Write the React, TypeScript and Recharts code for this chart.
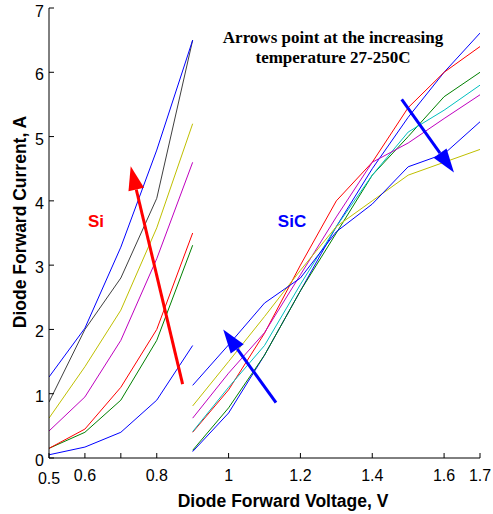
import React from "react";
import {
  LineChart,
  Line,
  XAxis,
  YAxis,
  ReferenceLine,
} from "recharts";

// 電圧の点（Si と SiC）
const siVoltage = [0.5, 0.6, 0.7, 0.8, 0.9];
const sicVoltage = [0.9, 1.0, 1.1, 1.2, 1.3, 1.4, 1.5, 1.6, 1.7];

// Si の電流（低温 → 高温）
const si1 = [0.05, 0.17, 0.4, 0.9, 1.75];
const si2 = [0.15, 0.4, 0.9, 1.83, 3.31];
const si3 = [0.15, 0.45, 1.1, 2.0, 3.5];
const si4 = [0.42, 0.95, 1.83, 3.1, 4.6];
const si5 = [0.62, 1.42, 2.3, 3.58, 5.2];
const si6 = [0.87, 2.0, 2.8, 4.04, 6.5];
const si7 = [1.26, 2.02, 3.28, 4.79, 6.5];

// SiC の電流（低温 → 高温）
const sic1 = [0.1, 0.7, 1.6, 2.6, 3.6, 4.5, 5.3, 6.0, 6.61];
const sic2 = [0.12, 0.78, 1.6, 2.6, 3.5, 4.4, 5.0, 5.62, 6.0];
const sic3 = [0.4, 1.06, 1.94, 3.0, 4.0, 4.6, 5.45, 6.0, 6.4];
const sic4 = [0.41, 1.1, 1.75, 2.7, 3.6, 4.4, 5.07, 5.41, 5.8];
const sic5 = [0.62, 1.32, 1.95, 2.85, 3.75, 4.6, 4.9, 5.28, 5.65];
const sic6 = [0.81, 1.5, 2.2, 2.92, 3.6, 4.0, 4.4, 4.6, 4.8];
const sic7 = [1.13, 1.76, 2.41, 2.8, 3.52, 3.95, 4.53, 4.73, 5.23];

const siColors = ["#0000ff", "#008000", "#ff0000", "#bf00bf", "#bfbf00", "#404040", "#0000ff"];
const sicColors = ["#0000ff", "#008000", "#ff0000", "#00bfbf", "#bf00bf", "#bfbf00", "#0000ff"];

const xTicks = [0.5, 0.6, 0.7, 0.8, 1, 1.2, 1.4, 1.6, 1.7];
const yTicks = [0, 1, 2, 3, 4, 5, 6, 7];

// 矢印（始点 → 先端）
const arrows = [
  { from: { x: 0.872, y: 1.15 }, to: { x: 0.7275, y: 4.54 }, color: "#ff0000" },
  { from: { x: 1.132, y: 0.86 }, to: { x: 0.985, y: 2.0 }, color: "#0000ff" },
  { from: { x: 1.482, y: 5.58 }, to: { x: 1.6275, y: 4.44 }, color: "#0000ff" },
];

const toPoints = (xs: number[], ys: number[]) => xs.map((x, i) => ({ x, y: ys[i] }));

const siSeries = [si1, si2, si3, si4, si5, si6, si7].map((ys) => toPoints(siVoltage, ys));
const sicSeries = [sic1, sic2, sic3, sic4, sic5, sic6, sic7].map((ys) => toPoints(sicVoltage, ys));

const font = "Arial, 'Liberation Sans', sans-serif";
const serif = "'Liberation Serif', 'Times New Roman', serif";

const XTick = (props: any) => {
  const { x, y, payload } = props;
  if (payload.value === 0.7) return <g />;
  const dy = payload.value === 0.5 ? 3 : 0;
  return (
    <text x={x} y={y + dy} dy={18} textAnchor="middle" fontSize={16} fontFamily={font} fill="#000">
      {payload.value}
    </text>
  );
};

const YTick = (props: any) => {
  const { x, y, payload } = props;
  return (
    <text x={x} y={y} dy={8} textAnchor="end" fontSize={16} fontFamily={font} fill="#000">
      {payload.value}
    </text>
  );
};

const ArrowShape = (props: any) => {
  const { x1, y1, x2, y2, stroke } = props;
  const dx = x2 - x1;
  const dy = y2 - y1;
  const len = Math.sqrt(dx * dx + dy * dy);
  const ux = dx / len;
  const uy = dy / len;
  const headLen = 24;
  const headHalf = 8;
  const bx = x2 - ux * headLen;
  const by = y2 - uy * headLen;
  const pts = `${x2},${y2} ${bx - uy * headHalf},${by + ux * headHalf} ${bx + uy * headHalf},${by - ux * headHalf}`;
  return (
    <g>
      <line x1={x1} y1={y1} x2={bx} y2={by} stroke={stroke} strokeWidth={3} />
      <polygon points={pts} fill={stroke} />
    </g>
  );
};

const App = () => {
  return (
    <div style={{ position: "absolute", left: 0, top: 0 }}>
      <LineChart width={493} height={514} margin={{ top: 8, right: 13, bottom: 0, left: 0 }}>
        <XAxis
          dataKey="x"
          type="number"
          domain={[0.5, 1.7]}
          ticks={xTicks}
          height={56}
          tickSize={-5}
          tickMargin={10}
          stroke="#000"
          tick={<XTick />}
          allowDataOverflow
        />
        <XAxis
          xAxisId="top"
          orientation="top"
          type="number"
          domain={[0.5, 1.7]}
          ticks={xTicks}
          height={0}
          tickSize={-5}
          stroke="#000"
          tick={() => <g />}
          allowDataOverflow
        />
        <YAxis
          type="number"
          domain={[0, 7]}
          ticks={yTicks}
          width={49}
          tickSize={-5}
          tickMargin={10}
          stroke="#000"
          tick={<YTick />}
          allowDataOverflow
        />
        <YAxis
          yAxisId="right"
          orientation="right"
          type="number"
          domain={[0, 7]}
          ticks={yTicks}
          width={0}
          tickSize={-5}
          stroke="#000"
          tick={() => <g />}
          allowDataOverflow
        />
        {siSeries.map((d, i) => (
          <Line
            key={`si${i}`}
            data={d}
            dataKey="y"
            stroke={siColors[i]}
            strokeWidth={1}
            dot={false}
            isAnimationActive={false}
          />
        ))}
        {sicSeries.map((d, i) => (
          <Line
            key={`sic${i}`}
            data={d}
            dataKey="y"
            stroke={sicColors[i]}
            strokeWidth={1}
            dot={false}
            isAnimationActive={false}
          />
        ))}
        {arrows.map((a, i) => (
          <ReferenceLine
            key={`arrow${i}`}
            segment={[a.from, a.to]}
            stroke={a.color}
            shape={<ArrowShape />}
          />
        ))}
        <text x={96} y={227} textAnchor="middle" fontSize={17} fontWeight="bold" fontFamily={font} fill="#ff0000">
          Si
        </text>
        <text x={292} y={227} textAnchor="middle" fontSize={17} fontWeight="bold" fontFamily={font} fill="#0000ff">
          SiC
        </text>
        <text x={333} y={43} textAnchor="middle" fontSize={17} fontWeight="bold" fontFamily={serif} fill="#000">
          Arrows point at the increasing
        </text>
        <text x={333} y={63} textAnchor="middle" fontSize={17} fontWeight="bold" fontFamily={serif} fill="#000">
          temperature 27-250C
        </text>
        <text x={283} y={507} textAnchor="middle" fontSize={17.5} fontWeight="bold" fontFamily={font} fill="#000">
          Diode Forward Voltage, V
        </text>
        <text
          x={26}
          y={222}
          textAnchor="middle"
          fontSize={17.5}
          fontWeight="bold"
          fontFamily={font}
          fill="#000"
          transform="rotate(-90 26 222)"
        >
          Diode Forward Current, A
        </text>
      </LineChart>
    </div>
  );
};

export default App;
